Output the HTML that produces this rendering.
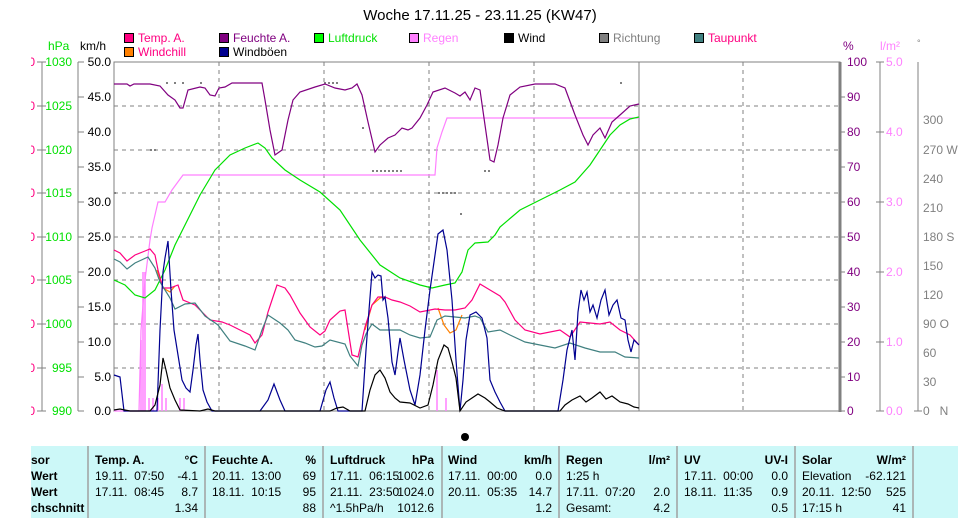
<!DOCTYPE html>
<html><head><meta charset="utf-8"><style>
body{margin:0;background:#fff;width:958px;height:518px;overflow:hidden;font-family:"Liberation Sans",sans-serif}
svg{position:absolute;left:0;top:0}
text{font-family:"Liberation Sans",sans-serif;font-size:12px;white-space:pre}
</style></head><body>
<svg width="958" height="518" viewBox="0 0 958 518">
<defs><clipPath id="c"><rect x="31" y="0" width="20" height="518"/></clipPath></defs>
<text x="480" y="20" text-anchor="middle" style="font-size:15px">Woche 17.11.25 - 23.11.25 (KW47)</text>
<g>
<rect x="124.5" y="33.5" width="9" height="9" fill="#ff0080" stroke="#000"/><text x="138" y="42" fill="#ff0080">Temp. A.</text>
<rect x="219.5" y="33.5" width="9" height="9" fill="#800080" stroke="#000"/><text x="233" y="42" fill="#800080">Feuchte A.</text>
<rect x="314.5" y="33.5" width="9" height="9" fill="#00ff00" stroke="#000"/><text x="328" y="42" fill="#00e000">Luftdruck</text>
<rect x="409.5" y="33.5" width="9" height="9" fill="#ff80ff" stroke="#000"/><text x="423" y="42" fill="#ff80ff">Regen</text>
<rect x="504.5" y="33.5" width="9" height="9" fill="#000" stroke="#000"/><text x="518" y="42">Wind</text>
<rect x="599.5" y="33.5" width="9" height="9" fill="#808080" stroke="#000"/><text x="613" y="42" fill="#808080">Richtung</text>
<rect x="694.5" y="33.5" width="9" height="9" fill="#408080" stroke="#000"/><text x="708" y="42" fill="#ff0080">Taupunkt</text>
<rect x="124.5" y="47.5" width="9" height="9" fill="#ff8000" stroke="#000"/><text x="138" y="56" fill="#ff0080">Windchill</text>
<rect x="219.5" y="47.5" width="9" height="9" fill="#000090" stroke="#000"/><text x="233" y="56">Windböen</text>
</g>
<text x="48" y="50" fill="#00e000">hPa</text><text x="80" y="50">km/h</text>
<text x="843" y="50" fill="#800080">%</text><text x="880" y="50" fill="#ff80ff">l/m²</text><text x="917" y="46" fill="#808080" style="font-size:9px">°</text>
<g stroke="#808080" stroke-dasharray="4,4" fill="none">
<path d="M114 106H840M114 150H840M114 193H840M114 237H840M114 280H840M114 324H840M114 368H840"/>
<path d="M219 62V411M324 62V411M429 62V411M534 62V411M743 62V411"/>
</g>
<path d="M639 62V411" stroke="#808080"/>
<rect x="114" y="62" width="726" height="349" fill="none" stroke="#808080"/>
<path d="M840 62V412" stroke="#808080" stroke-width="3"/>
<g stroke="#808080" fill="none">
<path d="M42 62V411M37 62H46M37 106H46M37 150H46M37 193H46M37 237H46M37 280H46M37 324H46M37 368H46M37 411H46"/>
<path d="M78 62V411M78 62H84M78 97H84M78 132H84M78 167H84M78 202H84M78 237H84M78 272H84M78 307H84M78 342H84M78 377H84M78 411H84"/>
<path d="M880 62V411M876 62H884M876 132H884M876 202H884M876 272H884M876 342H884M876 411H884"/>
<path d="M918 62V411M914 411H922"/>
<path d="M840 97H845M840 132H845M840 167H845M840 202H845M840 237H845M840 272H845M840 307H845M840 342H845M840 377H845M840 411H845"/>
</g>
<g fill="#ff0080" clip-path="url(#c)" text-anchor="end"><text x="35" y="66">0</text><text x="35" y="110">0</text><text x="35" y="154">0</text><text x="35" y="197">0</text><text x="35" y="241">0</text><text x="35" y="284">0</text><text x="35" y="328">0</text><text x="35" y="372">0</text><text x="35" y="415">0</text></g>
<g fill="#00e000" text-anchor="end"><text x="72" y="66">1030</text><text x="72" y="110">1025</text><text x="72" y="154">1020</text><text x="72" y="197">1015</text><text x="72" y="241">1010</text><text x="72" y="284">1005</text><text x="72" y="328">1000</text><text x="72" y="372">995</text><text x="72" y="415">990</text></g>
<g text-anchor="end"><text x="111" y="66">50.0</text><text x="111" y="101">45.0</text><text x="111" y="136">40.0</text><text x="111" y="171">35.0</text><text x="111" y="206">30.0</text><text x="111" y="241">25.0</text><text x="111" y="276">20.0</text><text x="111" y="311">15.0</text><text x="111" y="346">10.0</text><text x="111" y="381">5.0</text><text x="111" y="415">0.0</text></g>
<g fill="#800080"><text x="847" y="66">100</text><text x="847" y="101">90</text><text x="847" y="136">80</text><text x="847" y="171">70</text><text x="847" y="206">60</text><text x="847" y="241">50</text><text x="847" y="276">40</text><text x="847" y="311">30</text><text x="847" y="346">20</text><text x="847" y="381">10</text><text x="847" y="415">0</text></g>
<g fill="#ff80ff"><text x="886" y="66">5.0</text><text x="886" y="136">4.0</text><text x="886" y="206">3.0</text><text x="886" y="276">2.0</text><text x="886" y="346">1.0</text><text x="886" y="415">0.0</text></g>
<g fill="#808080" style="font-size:11px"><text x="923" y="124">300</text><text x="923" y="154">270 W</text><text x="923" y="183">240</text><text x="923" y="212">210</text><text x="923" y="241">180 S</text><text x="923" y="270">150</text><text x="923" y="299">120</text><text x="923" y="328">90 O</text><text x="923" y="357">60</text><text x="923" y="386">30</text><text x="923" y="415">0   N</text></g>
<g stroke="#808080" stroke-width="2" stroke-dasharray="2,2" fill="none"><path d="M166 83H170M174 83H178M182 83H186M200 83H202M324 83H340M372 171H404M438 193H456M150 150H158M114 193H118M484 171H490"/><path d="M460 214H462M362 128H364M620 83H622" stroke-dasharray="none"/></g>
<g stroke="#ff80ff" stroke-width="1.5"><path d="M141 411V340M143 411V272M145 411V272M149 411V398M153 411V398M158 411V398M162 411V384M166 411V398M180 411V398M184 411V398M437 411V370M446 411V398"/></g>
<g fill="none" stroke-width="1.2">
<polyline stroke="#ff80ff" points="114,411 139,411 141,330 145,280 150,240 152,228 158,202 165,202 172,190 183,175 435,175 437,148 442,132 447,118 639,118"/>
<polyline stroke="#00e000" points="114,280 125,285 135,295 145,298 155,290 165,270 175,245 185,225 200,195 215,170 230,155 245,148 258,143 265,148 272,158 285,170 300,180 320,192 340,210 360,240 380,265 400,278 420,285 432,288 445,285 455,283 462,272 468,250 475,243 488,242 495,235 500,227 520,210 540,200 560,190 575,182 590,165 600,150 610,135 620,125 630,119 639,117"/>
<polyline stroke="#800080" points="114,84 127,84 130,86 134,84 150,84 160,86 168,95 175,100 180,108 183,108 188,90 200,87 205,88 210,95 215,96 219,88 225,87 232,83 262,83 265,100 270,130 275,155 282,150 288,120 293,100 300,92 315,87 325,84 335,88 345,90 352,88 357,84 362,95 368,122 375,152 380,145 388,138 395,135 402,128 408,130 412,128 420,118 427,105 433,92 445,88 455,93 460,96 465,92 470,100 475,88 480,90 485,125 490,160 494,162 498,145 503,118 510,95 520,87 535,84 555,84 565,88 575,115 583,135 588,145 593,135 600,128 605,138 612,122 620,115 630,106 639,104"/>
<polyline stroke="#ff8000" points="157,270 163,288 170,292 175,286"/>
<polyline stroke="#ff8000" points="365,330 372,305 380,298 385,297"/>
<polyline stroke="#ff8000" points="438,308 444,325 450,333 456,330 462,315"/>
<polyline stroke="#ff0080" points="114,250 120,253 127,261 135,255 145,251 150,249 155,255 158,270 163,288 170,288 178,285 183,300 195,305 210,320 222,322 230,325 240,330 250,335 255,343 262,335 268,312 272,300 277,285 285,288 290,295 300,313 310,327 320,335 325,331 330,320 340,311 345,310 352,355 358,357 362,340 365,327 372,305 378,297 385,297 392,300 400,302 410,306 420,312 430,310 435,309 445,310 455,310 465,308 472,300 480,284 490,290 500,296 505,302 515,320 525,330 540,334 560,330 570,337 580,322 590,323 600,324 610,322 620,330 630,335 639,345"/>
<polyline stroke="#408080" points="114,259 120,262 127,269 135,263 148,257 155,268 160,282 170,298 175,309 185,304 195,303 205,316 218,325 230,341 245,346 255,350 262,330 268,315 280,323 288,330 295,340 305,343 315,347 322,346 330,340 345,344 350,356 358,366 362,345 366,334 372,324 380,330 392,330 400,330 410,335 420,338 430,337 437,320 445,316 455,317 465,318 475,316 480,318 488,332 500,330 510,335 525,342 540,345 555,348 570,343 585,348 600,352 615,352 625,357 639,358"/>
<polyline stroke="#000090" points="114,375 120,377 124,411 157,411 160,330 163,272 165,258 168,241 171,290 174,330 178,355 182,380 186,388 190,392 193,370 196,345 198,334 200,360 203,390 207,402 212,411 260,411 268,400 274,384 280,400 285,411 320,411 326,390 330,382 334,398 338,411 362,411 366,350 369,310 372,272 375,278 378,275 381,276 383,300 385,297 388,318 392,362 395,375 398,352 400,338 404,360 410,390 415,405 420,375 425,330 430,290 434,262 438,234 443,230 447,250 452,300 456,360 460,411 463,380 466,340 470,315 476,312 482,318 487,338 490,380 495,392 500,402 505,411 558,411 563,380 567,350 572,330 575,360 578,312 581,290 584,300 587,292 590,312 593,305 597,318 601,300 605,290 609,315 613,305 617,300 621,318 625,320 628,340 631,352 634,340 639,345"/>
<polyline stroke="#000" points="114,410 120,409 130,411 150,411 155,405 160,385 163,358 166,370 170,388 175,400 180,410 200,411 208,409 215,411 330,411 337,408 343,407 350,411 365,411 370,390 375,375 380,370 385,378 390,392 395,398 400,402 410,403 420,408 428,405 433,385 438,360 444,345 448,348 452,362 456,378 460,411 466,402 472,398 478,394 485,398 490,402 497,408 505,411 560,411 565,405 572,400 580,396 586,402 592,398 600,392 606,399 612,396 620,402 628,404 634,407 639,408"/>
</g>
<circle cx="465" cy="437" r="4" fill="#000"/>
<rect x="31" y="446" width="927" height="72" fill="#ccf8f8"/>
<g stroke="#a0a0a0" stroke-width="1.5"><path d="M88 446V518M205 446V518M323 446V518M442 446V518M559 446V518M677 446V518M795 446V518M913 446V518"/></g>
<g style="font-weight:bold">
<text x="31" y="464">sor</text><text x="31" y="480">Wert</text><text x="31" y="496">Wert</text><text x="31" y="512">chschnitt</text>
<text x="95" y="464">Temp. A.</text><text x="198" y="464" text-anchor="end">°C</text>
<text x="212" y="464">Feuchte A.</text><text x="316" y="464" text-anchor="end">%</text>
<text x="330" y="464">Luftdruck</text><text x="434" y="464" text-anchor="end">hPa</text>
<text x="448" y="464">Wind</text><text x="552" y="464" text-anchor="end">km/h</text>
<text x="566" y="464">Regen</text><text x="670" y="464" text-anchor="end">l/m²</text>
<text x="684" y="464">UV</text><text x="788" y="464" text-anchor="end">UV-I</text>
<text x="802" y="464">Solar</text><text x="906" y="464" text-anchor="end">W/m²</text>
</g>
<g>
<text x="95" y="480">19.11.  07:50</text><text x="198" y="480" text-anchor="end">-4.1</text>
<text x="95" y="496">17.11.  08:45</text><text x="198" y="496" text-anchor="end">8.7</text>
<text x="198" y="512" text-anchor="end">1.34</text>
<text x="212" y="480">20.11.  13:00</text><text x="316" y="480" text-anchor="end">69</text>
<text x="212" y="496">18.11.  10:15</text><text x="316" y="496" text-anchor="end">95</text>
<text x="316" y="512" text-anchor="end">88</text>
<text x="330" y="480">17.11.  06:15</text><text x="434" y="480" text-anchor="end">1002.6</text>
<text x="330" y="496">21.11.  23:50</text><text x="434" y="496" text-anchor="end">1024.0</text>
<text x="330" y="512">^1.5hPa/h</text><text x="434" y="512" text-anchor="end">1012.6</text>
<text x="448" y="480">17.11.  00:00</text><text x="552" y="480" text-anchor="end">0.0</text>
<text x="448" y="496">20.11.  05:35</text><text x="552" y="496" text-anchor="end">14.7</text>
<text x="552" y="512" text-anchor="end">1.2</text>
<text x="566" y="480">1:25 h</text>
<text x="566" y="496">17.11.  07:20</text><text x="670" y="496" text-anchor="end">2.0</text>
<text x="566" y="512">Gesamt:</text><text x="670" y="512" text-anchor="end">4.2</text>
<text x="684" y="480">17.11.  00:00</text><text x="788" y="480" text-anchor="end">0.0</text>
<text x="684" y="496">18.11.  11:35</text><text x="788" y="496" text-anchor="end">0.9</text>
<text x="788" y="512" text-anchor="end">0.5</text>
<text x="802" y="480">Elevation</text><text x="906" y="480" text-anchor="end">-62.121</text>
<text x="802" y="496">20.11.  12:50</text><text x="906" y="496" text-anchor="end">525</text>
<text x="802" y="512">17:15 h</text><text x="906" y="512" text-anchor="end">41</text>
</g>
</svg>
</body></html>
